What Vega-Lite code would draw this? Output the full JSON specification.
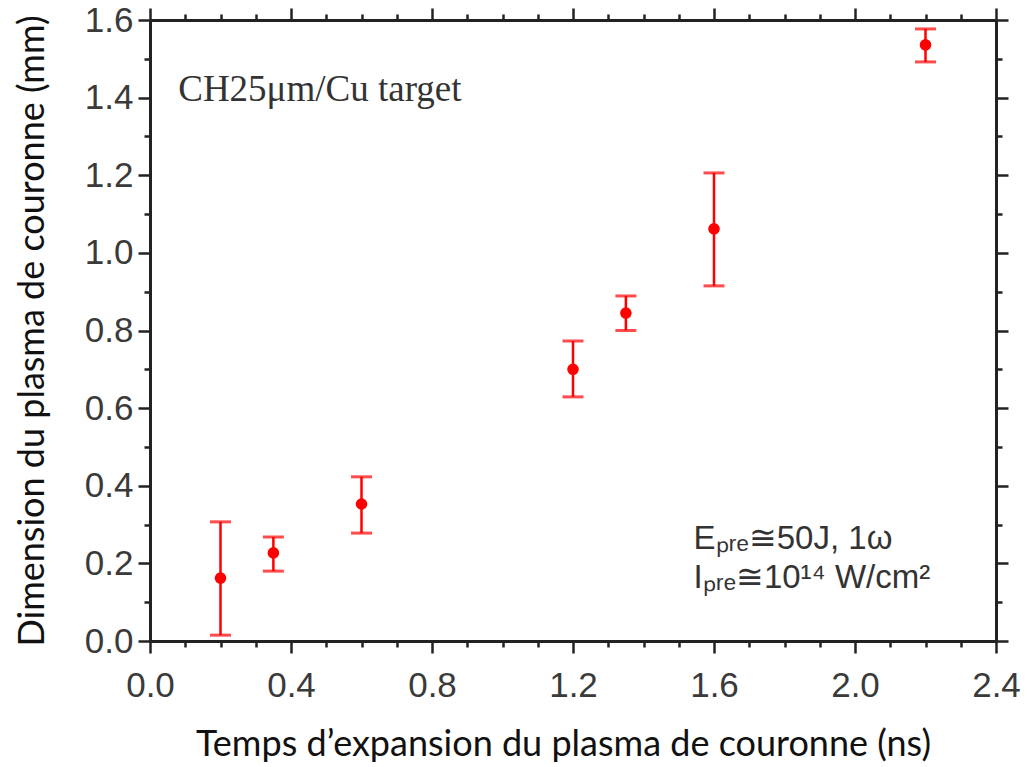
{
  "$schema": "https://vega.github.io/schema/vega-lite/v6.json",
  "autosize": "none",
  "width": 846,
  "height": 621,
  "padding": {"left": 150, "top": 20, "right": 31, "bottom": 126},
  "background": "white",
  "config": {
    "view": {"stroke": null},
    "axis": {"grid": false, "domainColor": "#222", "domainWidth": 3, "tickColor": "#222", "tickWidth": 2.5,
      "labelFont": "Liberation Sans", "labelFontSize": 35, "labelColor": "#3a3a3a",
      "titleFont": "Lato", "titleFontSize": 36, "titleFontWeight": "normal", "titleColor": "#111"}
  },
  "datasets": {
    "pts": [
      {"t": 0.2, "d": 0.162, "lo": 0.015, "hi": 0.307},
      {"t": 0.35, "d": 0.227, "lo": 0.18, "hi": 0.268},
      {"t": 0.6, "d": 0.353, "lo": 0.278, "hi": 0.423},
      {"t": 1.2, "d": 0.70, "lo": 0.629, "hi": 0.773},
      {"t": 1.35, "d": 0.845, "lo": 0.80, "hi": 0.889},
      {"t": 1.6, "d": 1.062, "lo": 0.915, "hi": 1.206},
      {"t": 2.2, "d": 1.536, "lo": 1.492, "hi": 1.577}
    ]
  },
  "layer": [
    {
      "data": {"name": "pts"},
      "mark": {"type": "rule", "color": "#ff0000", "strokeWidth": 2.5},
      "encoding": {
        "x": {"field": "t", "type": "quantitative", "scale": {"domain": [0, 2.4], "nice": false, "zero": false},
          "axis": {"orient": "bottom", "title": "Temps d’expansion du plasma de couronne (ns)", "titlePadding": 24,
            "titleX": 413, "titleAnchor": "start", "titleAlign": "center",
            "values": [0,0.1,0.2,0.3,0.4,0.5,0.6,0.7,0.8,0.9,1.0,1.1,1.2,1.3,1.4,1.5,1.6,1.7,1.8,1.9,2.0,2.1,2.2,2.3,2.4],
            "labelExpr": "abs(datum.value/0.4 - round(datum.value/0.4)) < 0.001 ? format(datum.value, '.1f') : ''",
            "tickSize": {"condition": {"test": "abs(datum.value/0.4 - round(datum.value/0.4)) < 0.001", "value": 12}, "value": 6},
            "labelPadding": 15, "labelFlush": false}},
        "y": {"field": "lo", "type": "quantitative", "scale": {"domain": [0, 1.6], "nice": false, "zero": false},
          "axis": {"orient": "left", "title": "Dimension du plasma de couronne (mm)", "titlePadding": 33,
            "values": [0,0.1,0.2,0.3,0.4,0.5,0.6,0.7,0.8,0.9,1.0,1.1,1.2,1.3,1.4,1.5,1.6],
            "labelExpr": "abs(datum.value/0.2 - round(datum.value/0.2)) < 0.001 ? format(datum.value, '.1f') : ''",
            "tickSize": {"condition": {"test": "abs(datum.value/0.2 - round(datum.value/0.2)) < 0.001", "value": 12}, "value": 6},
            "labelPadding": 5, "labelFlush": false}},
        "y2": {"field": "hi"}
      }
    },
    {
      "data": {"name": "pts"},
      "mark": {"type": "tick", "orient": "horizontal", "color": "#ff0000", "size": 21, "thickness": 3},
      "encoding": {
        "x": {"field": "t", "type": "quantitative",
          "axis": {"orient": "top", "title": null, "labels": false,
            "values": [0,0.1,0.2,0.3,0.4,0.5,0.6,0.7,0.8,0.9,1.0,1.1,1.2,1.3,1.4,1.5,1.6,1.7,1.8,1.9,2.0,2.1,2.2,2.3,2.4],
            "tickSize": {"condition": {"test": "abs(datum.value/0.4 - round(datum.value/0.4)) < 0.001", "value": 12}, "value": 6}}},
        "y": {"field": "lo", "type": "quantitative",
          "axis": {"orient": "right", "title": null, "labels": false,
            "values": [0,0.1,0.2,0.3,0.4,0.5,0.6,0.7,0.8,0.9,1.0,1.1,1.2,1.3,1.4,1.5,1.6],
            "tickSize": {"condition": {"test": "abs(datum.value/0.2 - round(datum.value/0.2)) < 0.001", "value": 12}, "value": 6}}}
      }
    },
    {
      "data": {"name": "pts"},
      "mark": {"type": "tick", "orient": "horizontal", "color": "#ff0000", "size": 21, "thickness": 3},
      "encoding": {
        "x": {"field": "t", "type": "quantitative", "axis": null},
        "y": {"field": "hi", "type": "quantitative", "axis": null}
      }
    },
    {
      "data": {"name": "pts"},
      "mark": {"type": "point", "filled": true, "shape": "circle", "color": "#ff0000", "size": 135, "opacity": 1},
      "encoding": {
        "x": {"field": "t", "type": "quantitative", "axis": null},
        "y": {"field": "d", "type": "quantitative", "axis": null}
      }
    },
    {
      "data": {"values": [
        {"t": 0.08, "d": 1.42, "s": "CH25μm/Cu target"}
      ]},
      "mark": {"type": "text", "align": "left", "baseline": "middle", "fontSize": 37, "font": "Liberation Serif", "color": "#333"},
      "encoding": {
        "x": {"field": "t", "type": "quantitative", "axis": null},
        "y": {"field": "d", "type": "quantitative", "axis": null},
        "text": {"field": "s"}
      }
    },
    {
      "data": {"values": [
        {"t": 1.542, "d": 0.262, "s": "Eₚᵣₑ≅50J, 1ω"},
        {"t": 1.542, "d": 0.163, "s": "Iₚᵣₑ≅10¹⁴ W/cm²"}
      ]},
      "mark": {"type": "text", "align": "left", "baseline": "middle", "fontSize": 33, "font": "Liberation Sans", "color": "#333"},
      "encoding": {
        "x": {"field": "t", "type": "quantitative", "axis": null},
        "y": {"field": "d", "type": "quantitative", "axis": null},
        "text": {"field": "s"}
      }
    }
  ],
  "resolve": {"axis": {"x": "independent", "y": "independent"}}
}
